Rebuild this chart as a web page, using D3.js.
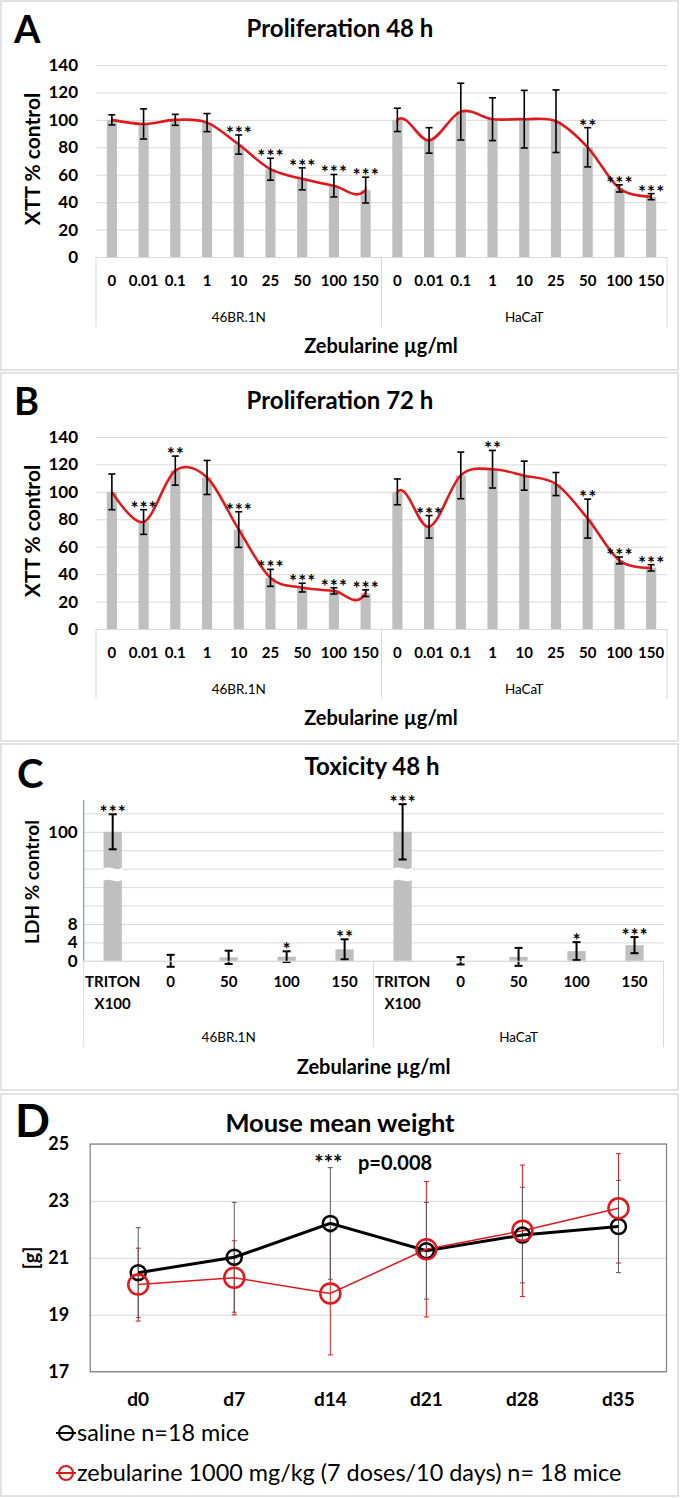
<!DOCTYPE html>
<html><head><meta charset="utf-8">
<script src="https://cdn.jsdelivr.net/npm/d3@7"></script>
<style>
body{margin:0;background:#fff}
svg{display:block}
text{font-family:Lato,"Open Sans",sans-serif;fill:#000}
</style>
</head><body>
<svg id="c" width="680" height="1498"></svg>
<script>
// ---------- DATA ----------
const doses = ["0","0.01","0.1","1","10","25","50","100","150"];
const cellLines = ["46BR.1N","HaCaT"];
const prolifTicks = [0,20,40,60,80,100,120,140];

// Proliferation 48 h (46BR.1N then HaCaT)
const p48Mean = [100,97,100,98,82,64,57,52,48.8, 100,85,106,100.5,100.5,99,80,50,44];
const p48Err  = [3.7,11,4,6.6,7,8,8,8.2,9.4, 8.5,9.3,20.7,15.6,21,22.8,14.3,2.6,2.2];
const p48Sig  = ["","","","","***","***","***","***","***", "","","","","","","**","***","***"];

// Proliferation 72 h
const p72Mean = [100,78,115.5,110.5,72.5,37.3,30.2,27.8,26.1, 100,74.5,112,116.5,111.8,105.7,80.5,50,44.6];
const p72Err  = [13,9,10.6,12.4,13,6.2,3.2,2.3,2.4, 9.4,8.2,17,13.7,10.6,8.4,14.2,2.5,2.3];
const p72Sig  = ["","***","**","","***","***","***","***","***", "","***","","**","","","**","***","***"];

// Toxicity 48 h (LDH)
const toxCats = ["TRITON X100","0","50","100","150"];
const toxMean = [100,0,0.75,0.9,2.5, 100,0,0.85,2.1,3.4];
const toxErr  = [3.8,1.3,1.45,1.16,2.17, 6,0.8,1.95,1.95,1.75];
const toxSig  = ["***","","","*","**", "***","","","*","***"];
const toxGrid = [0,4,8,12,16,92,96,100,104];
const toxLabels = [0,4,8,100];

// Mouse mean weight
const days = ["d0","d7","d14","d21","d28","d35"];
const salineMean = [20.48,21.02,22.21,21.25,21.8,22.1];
const salineErr  = [1.58,1.93,1.96,1.7,1.68,1.62];
const zebMean    = [20.06,20.3,19.75,21.3,21.95,22.74];
const zebErr     = [1.28,1.3,2.16,2.38,2.31,1.92];
const weightTicks = [17,19,21,23,25];
const legendNames = ["saline n=18 mice","zebularine 1000 mg/kg (7 doses/10 days) n= 18 mice"];

// ---------- STYLE ----------
const GRID = "#d9d9d9", BAR = "#bfbfbf", RED = "#e0191d";
const TITLE_FS = 24, STAR_FS = 19;

const svg = d3.select("#c");
svg.append("rect").attr("width",680).attr("height",1498).attr("fill","#fff");

function frame(x,y,w,h){
  svg.append("rect").attr("x",x).attr("y",y).attr("width",w).attr("height",h)
    .attr("fill","none").attr("stroke",GRID).attr("stroke-width",1.5);
}
frame(1,1,677,369); frame(1,373,677,368); frame(1,744,677,346); frame(1,1094,677,402);

function errBar(g, cx, yTop, yBot, cap, color, sw){
  g.append("line").attr("x1",cx).attr("x2",cx).attr("y1",yTop).attr("y2",yBot)
    .attr("stroke",color).attr("stroke-width",sw);
  [yTop,yBot].forEach(yy=>g.append("line").attr("x1",cx-cap).attr("x2",cx+cap)
    .attr("y1",yy).attr("y2",yy).attr("stroke",color).attr("stroke-width",sw));
}
function star(g, x, yTop, s){
  g.append("text").attr("x",x+0.5).attr("y",yTop+5).attr("text-anchor","middle")
    .attr("font-size",STAR_FS).attr("font-weight","bold").attr("letter-spacing",1).text(s);
}

function prolifPanel(off, letter, title, means, errs, sigs, id){
  const g = svg.append("g").attr("transform",`translate(0,${off})`);
  const x = d3.scaleBand().domain(d3.range(means.length)).range([96,667])
    .paddingInner(0.68).paddingOuter(0.34);
  const y = d3.scaleLinear().domain([0,140]).range([257,65]);
  const cx = i => x(i) + x.bandwidth()/2;

  g.append("text").attr("x",14).attr("y",43).attr("font-size",38).attr("font-weight","bold").text(letter);
  g.append("text").attr("x",340).attr("y",28.5).attr("dy","0.35em").attr("text-anchor","middle")
    .attr("font-size",TITLE_FS).attr("font-weight","bold").text(title);

  const ya = g.append("g").attr("transform","translate(96,0)")
    .call(d3.axisLeft(y).tickValues(prolifTicks).tickSize(-571).tickPadding(18));
  ya.select(".domain").remove();
  ya.selectAll("line").attr("stroke",GRID);
  ya.selectAll("text").attr("font-size",17).attr("font-weight","bold").attr("fill","#000")
    .style("font-family","Lato");

  g.append("text").attr("transform","translate(33,159) rotate(-90)").attr("dy","0.35em")
    .attr("text-anchor","middle").attr("font-size",21).attr("font-weight","bold").text("XTT % control");

  // bars
  g.selectAll(".bar").data(means).join("rect")
    .attr("x",(d,i)=>x(i)).attr("width",x.bandwidth())
    .attr("y",d=>y(d)).attr("height",d=>y(0)-y(d)).attr("fill",BAR);

  // smoothed line, one series, connecting segment between groups hidden
  const clip = g.append("clipPath").attr("id",id);
  [[0,8],[9,17]].forEach(([a,b])=>clip.append("rect")
    .attr("x",cx(a)-1).attr("width",cx(b)-cx(a)+2).attr("y",0).attr("height",300));
  g.append("path").datum(means)
    .attr("d",d3.line().x((d,i)=>cx(i)).y(d=>y(d)).curve(d3.curveCardinal.tension(0)))
    .attr("fill","none").attr("stroke",RED).attr("stroke-width",2.6)
    .attr("clip-path",`url(#${id})`);

  means.forEach((m,i)=>errBar(g,cx(i),y(m+errs[i]),y(m-errs[i]),3.5,"#000",1.6));
  sigs.forEach((s,i)=>{ if(s) star(g,cx(i),y(means[i]+errs[i]),s); });

  // category axis
  const xa = g.append("g").attr("transform",`translate(0,${y(0)})`)
    .call(d3.axisBottom(x).tickSize(0).tickPadding(18).tickFormat(i=>doses[i%doses.length]));
  xa.select(".domain").attr("stroke",GRID);
  xa.selectAll("text").attr("font-size",15).attr("font-weight","bold").attr("fill","#000")
    .style("font-family","Lato");
  const n = doses.length;
  [0,1,2].forEach(k=>{
    const bx = x.range()[0] + k*n*x.step();
    g.append("line").attr("x1",bx).attr("x2",bx).attr("y1",y(0)).attr("y2",y(0)+70).attr("stroke",GRID);
  });
  cellLines.forEach((c,k)=>{
    g.append("text").attr("x",x.range()[0]+(k+0.5)*n*x.step()).attr("y",317).attr("dy","0.35em")
      .attr("text-anchor","middle").attr("font-size",13.5).text(c);
  });
  g.append("text").attr("x",381).attr("y",346).attr("dy","0.35em").attr("text-anchor","middle")
    .attr("font-size",20).attr("font-weight","bold").text("Zebularine µg/ml");
}

prolifPanel(0,"A","Proliferation 48 h",p48Mean,p48Err,p48Sig,"clipA");
prolifPanel(372,"B","Proliferation 72 h",p72Mean,p72Err,p72Sig,"clipB");

// ---------- Panel C ----------
(function(){
  const g = svg.append("g");
  const allCats = d3.range(toxMean.length);
  const x = d3.scaleBand().domain(allCats).range([83.7,663.5]).paddingInner(0.685).paddingOuter(0.3425);
  // broken axis: lower part 0..18, upper part 90..107
  const y = d3.scaleLinear().domain([0,18,90,106.9]).range([960.8,877.9,877.9,800]);
  const cx = i => x(i) + x.bandwidth()/2;

  g.append("text").attr("x",17).attr("y",788).attr("font-size",40).attr("font-weight","bold").text("C");
  g.append("text").attr("x",372).attr("y",767).attr("dy","0.35em").attr("text-anchor","middle")
    .attr("font-size",TITLE_FS).attr("font-weight","bold").text("Toxicity 48 h");

  const ya = g.append("g").attr("transform","translate(83.7,0)")
    .call(d3.axisLeft(y).tickValues(toxGrid).tickSize(-579.8).tickPadding(6)
      .tickFormat(d=>toxLabels.includes(d)?d:""));
  ya.select(".domain").remove();
  ya.selectAll("line").attr("stroke",GRID);
  ya.selectAll("text").attr("font-size",17).attr("font-weight","bold").attr("fill","#000")
    .style("font-family","Lato");
  g.append("line").attr("x1",83.7).attr("x2",83.7).attr("y1",800).attr("y2",960.8)
    .attr("stroke","#8497b0").attr("stroke-width",1.2);

  g.append("text").attr("transform","translate(32,882) rotate(-90)").attr("dy","0.35em")
    .attr("text-anchor","middle").attr("font-size",19).attr("font-weight","bold").text("LDH % control");

  g.selectAll(".tbar").data(toxMean).join("rect")
    .attr("x",(d,i)=>x(i)).attr("width",x.bandwidth())
    .attr("y",d=>y(Math.max(d,0))).attr("height",d=>y(0)-y(Math.max(d,0))).attr("fill",BAR);

  // axis break drawn on bars that cross it
  toxMean.forEach((m,i)=>{
    if(m < 90) return;
    const x0 = x(i)-1, x1 = x(i)+x.bandwidth()+1, w = x1-x0;
    const t = y(92.3), b = y(17.2);
    g.append("path").attr("fill","#fff")
      .attr("d",`M${x0},${t+2} C${x0+w/3},${t-3} ${x0+2*w/3},${t+5} ${x1},${t} L${x1},${b-2} C${x1-w/3},${b+3} ${x1-2*w/3},${b-5} ${x0},${b} Z`);
  });

  toxMean.forEach((m,i)=>errBar(g,cx(i),y(m+toxErr[i]),y(m-toxErr[i]),4,"#000",2));
  toxSig.forEach((s,i)=>{ if(s) star(g,cx(i),y(toxMean[i]+toxErr[i]),s); });

  const xa = g.append("g").attr("transform",`translate(0,${y(0)})`)
    .call(d3.axisBottom(x).tickSize(0).tickPadding(16).tickFormat(i=>toxCats[i%toxCats.length]));
  xa.select(".domain").attr("stroke",GRID);
  xa.selectAll("text").attr("font-size",15).attr("font-weight","bold").attr("fill","#000")
    .style("font-family","Lato")
    .each(function(){
      const el = d3.select(this), words = el.text().split(" ");
      if(words.length<2) return;
      el.text(null);
      words.forEach((w,k)=>el.append("tspan").attr("x",0).attr("dy",k?"1.45em":"0.71em").text(w));
    });
  const n = toxCats.length;
  [0,1,2].forEach(k=>{
    const bx = x.range()[0] + k*n*x.step();
    g.append("line").attr("x1",bx).attr("x2",bx).attr("y1",y(0)).attr("y2",1047).attr("stroke",GRID);
  });
  cellLines.forEach((c,k)=>{
    g.append("text").attr("x",x.range()[0]+(k+0.5)*n*x.step()).attr("y",1037).attr("dy","0.35em")
      .attr("text-anchor","middle").attr("font-size",13.5).text(c);
  });
  g.append("text").attr("x",373.6).attr("y",1067).attr("dy","0.35em").attr("text-anchor","middle")
    .attr("font-size",20).attr("font-weight","bold").text("Zebularine µg/ml");
})();

// ---------- Panel D ----------
(function(){
  const g = svg.append("g");
  const x = d3.scaleBand().domain(days).range([90.2,666.5]);
  const y = d3.scaleLinear().domain([17,25]).range([1371.7,1144]);
  const cx = d => x(d) + x.bandwidth()/2;

  g.append("text").attr("x",15).attr("y",1137).attr("font-size",46).attr("font-weight","bold").text("D");
  g.append("text").attr("x",340).attr("y",1123).attr("dy","0.35em").attr("text-anchor","middle")
    .attr("font-size",25.5).attr("font-weight","bold").text("Mouse mean weight");

  const ya = g.append("g").attr("transform","translate(90.2,0)")
    .call(d3.axisLeft(y).tickValues(weightTicks).tickSize(-576.3).tickPadding(21));
  ya.select(".domain").remove();
  ya.selectAll("line").attr("stroke",GRID);
  ya.selectAll("text").attr("font-size",18).attr("font-weight","bold").attr("fill","#000")
    .style("font-family","Lato");
  g.append("rect").attr("x",90.2).attr("y",1144).attr("width",576.3).attr("height",227.7)
    .attr("fill","none").attr("stroke","#7f7f7f").attr("stroke-width",1.2);

  g.append("text").attr("transform","translate(31,1258) rotate(-90)").attr("dy","0.35em")
    .attr("text-anchor","middle").attr("font-size",20).attr("font-weight","bold").text("[g]");

  const xa = g.append("g").attr("transform","translate(0,1371.7)")
    .call(d3.axisBottom(x).tickSize(0).tickPadding(21));
  xa.select(".domain").remove();
  xa.selectAll("text").attr("font-size",19).attr("font-weight","bold").attr("fill","#000")
    .style("font-family","Lato");

  const line = d3.line().x((d,i)=>cx(days[i])).y(d=>y(d));

  zebMean.forEach((m,i)=>errBar(g,cx(days[i]),y(m+zebErr[i]),y(m-zebErr[i]),2.5,RED,1));
  salineMean.forEach((m,i)=>errBar(g,cx(days[i]),y(m+salineErr[i]),y(m-salineErr[i]),2.5,"#595959",1));

  g.append("path").datum(salineMean).attr("d",line).attr("fill","none")
    .attr("stroke","#000").attr("stroke-width",3);
  g.append("path").datum(zebMean).attr("d",line).attr("fill","none")
    .attr("stroke",RED).attr("stroke-width",1.5);
  g.selectAll(".sm").data(salineMean).join("circle")
    .attr("cx",(d,i)=>cx(days[i])).attr("cy",d=>y(d)).attr("r",7.5)
    .attr("fill","none").attr("stroke","#000").attr("stroke-width",2.5);
  g.selectAll(".zm").data(zebMean).join("circle")
    .attr("cx",(d,i)=>cx(days[i])).attr("cy",d=>y(d)).attr("r",10)
    .attr("fill","none").attr("stroke",RED).attr("stroke-width",2.5);

  g.append("text").attr("x",cx("d14")-2).attr("y",1171).attr("text-anchor","middle")
    .attr("font-size",22).attr("font-weight","bold").text("***");
  g.append("text").attr("x",358).attr("y",1163).attr("dy","0.35em")
    .attr("font-size",20).attr("font-weight","bold").text("p=0.008");

  // legend
  const colors = ["#000",RED];
  legendNames.forEach((nm,k)=>{
    const ly = 1433 + k*40;
    g.append("line").attr("x1",56).attr("x2",76).attr("y1",ly).attr("y2",ly)
      .attr("stroke",colors[k]).attr("stroke-width",2);
    g.append("circle").attr("cx",66).attr("cy",ly).attr("r",7)
      .attr("fill","none").attr("stroke",colors[k]).attr("stroke-width",2);
    g.append("text").attr("x",77).attr("y",ly).attr("dy","0.35em").attr("font-size",23.4).text(nm);
  });
})();
</script>
</body></html>
